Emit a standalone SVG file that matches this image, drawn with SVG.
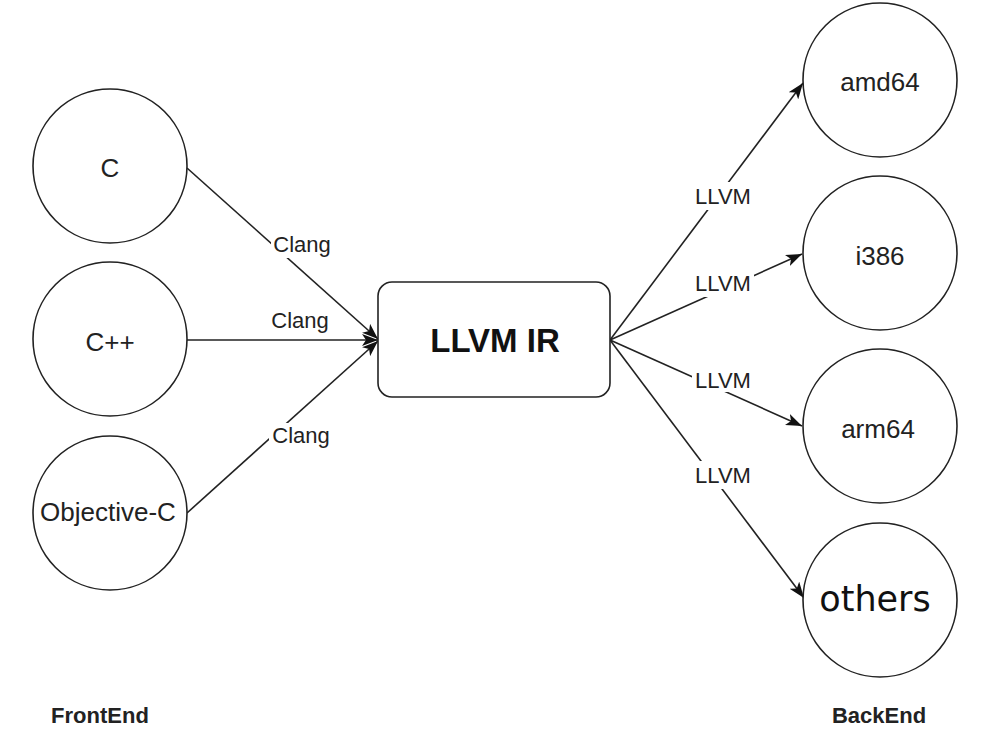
<svg xmlns="http://www.w3.org/2000/svg" width="1008" height="753" viewBox="0 0 1008 753">
<style>
.node{fill:#fff;stroke:#222;stroke-width:1.6}
.lbl{font-family:"Liberation Sans",Arial,sans-serif;font-size:26px;fill:#222;text-anchor:middle}
.edge{stroke:#222;stroke-width:1.6;fill:none}
.elbl{font-family:"Liberation Sans",Arial,sans-serif;font-size:22px;fill:#222;text-anchor:middle}
.bg{fill:#fff;stroke:none}
.title{font-family:"Liberation Sans",Arial,sans-serif;font-size:22px;font-weight:bold;fill:#222;text-anchor:middle}
</style>
<defs>
<marker id="arr" markerUnits="userSpaceOnUse" markerWidth="16" markerHeight="12" refX="16" refY="6" orient="auto">
<path d="M0,0 L16,6 L0,12 L4,6 z" fill="#111"/>
</marker>
</defs>
<rect width="1008" height="753" fill="#fff"/>
<g id="connectors">
<line class="edge" x1="187" y1="168" x2="378" y2="339" marker-end="url(#arr)"/>
<line class="edge" x1="187" y1="340" x2="378" y2="340" marker-end="url(#arr)"/>
<line class="edge" x1="187" y1="513" x2="378" y2="341" marker-end="url(#arr)"/>
<line class="edge" x1="610" y1="340" x2="803" y2="83" marker-end="url(#arr)"/>
<line class="edge" x1="610" y1="340" x2="802" y2="254" marker-end="url(#arr)"/>
<line class="edge" x1="610" y1="340" x2="802" y2="426" marker-end="url(#arr)"/>
<line class="edge" x1="610" y1="340" x2="804" y2="598" marker-end="url(#arr)"/>
<rect class="bg" x="271" y="232" width="62" height="26"/>
<text class="elbl" x="302" y="252">Clang</text>
<text class="elbl" x="300" y="328">Clang</text>
<rect class="bg" x="269" y="423" width="64" height="26"/>
<text class="elbl" x="301" y="443">Clang</text>
<rect class="bg" x="692" y="182" width="62" height="28"/>
<text class="elbl" x="723" y="204">LLVM</text>
<rect class="bg" x="692" y="270" width="62" height="27"/>
<text class="elbl" x="723" y="291">LLVM</text>
<rect class="bg" x="692" y="366" width="62" height="26"/>
<text class="elbl" x="723" y="388">LLVM</text>
<rect class="bg" x="692" y="461" width="62" height="28"/>
<text class="elbl" x="723" y="483">LLVM</text>
</g>
<g id="node-c">
<circle class="node" cx="110" cy="166" r="77"/>
<text class="lbl" x="110" y="177">C</text>
</g>
<g id="node-cpp">
<circle class="node" cx="110" cy="339" r="77"/>
<text class="lbl" x="110" y="351">C++</text>
</g>
<g id="node-objc">
<circle class="node" cx="110" cy="513" r="77"/>
<text class="lbl" x="108" y="521">Objective-C</text>
</g>
<g id="node-ir">
<rect class="node" x="378" y="282" width="232" height="115" rx="14" ry="14"/>
<text x="495" y="352" font-family="Liberation Sans,Arial,sans-serif" font-size="33" font-weight="bold" fill="#111" text-anchor="middle">LLVM IR</text>
</g>
<g id="node-amd64">
<circle class="node" cx="880" cy="80" r="77"/>
<text class="lbl" x="880" y="91">amd64</text>
</g>
<g id="node-i386">
<circle class="node" cx="880" cy="253" r="77"/>
<text class="lbl" x="880" y="265">i386</text>
</g>
<g id="node-arm64">
<circle class="node" cx="880" cy="426" r="77"/>
<text class="lbl" x="878" y="438">arm64</text>
</g>
<g id="node-others">
<circle class="node" cx="880" cy="600" r="77"/>
<text x="875" y="611" font-family="DejaVu Sans,sans-serif" font-size="35" fill="#111" text-anchor="middle">others</text>
</g>
<g id="label-frontend">
<text class="title" x="100" y="723">FrontEnd</text>
</g>
<g id="label-backend">
<text class="title" x="879" y="723">BackEnd</text>
</g>
</svg>
